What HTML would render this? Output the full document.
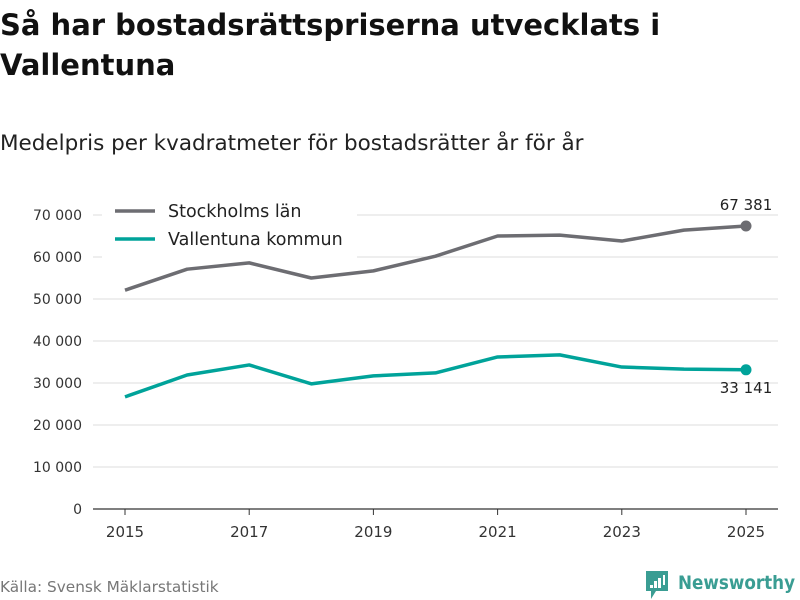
<!DOCTYPE html>
<html><head><meta charset="utf-8"><style>
body{margin:0;width:800px;height:600px;background:#fff;font-family:"DejaVu Sans","Liberation Sans",sans-serif;overflow:hidden;position:relative}
#t{position:absolute;left:0;top:5px;font-size:29px;font-weight:bold;line-height:40px;color:#111}
#s{position:absolute;left:0;top:131px;font-size:21.5px;color:#222}
#src{position:absolute;left:0;top:578px;font-size:15.3px;color:#777}
</style></head><body>
<div id="t">Så har bostadsrättspriserna utvecklats i<br>Vallentuna</div>
<div id="s">Medelpris per kvadratmeter för bostadsrätter år för år</div>
<div id="src">Källa: Svensk Mäklarstatistik</div>
<svg width="800" height="600" style="position:absolute;left:0;top:0" id="svg"></svg>
<script>
const years=[2015,2016,2017,2018,2019,2020,2021,2022,2023,2024,2025];
const sthlm=[52100,57100,58600,55000,56700,60200,65000,65200,63800,66400,67381];
const vall=[26700,31900,34300,29800,31700,32400,36200,36700,33800,33300,33141];
const yTicks=[0,10000,20000,30000,40000,50000,60000,70000];
const xTicks=[2015,2017,2019,2021,2023,2025];
const ns="http://www.w3.org/2000/svg";
const svg=document.getElementById('svg');
const x=v=>125+(v-2015)*62.1;
const y=v=>509-v*0.0042;
const fmt=v=>String(v).replace(/\B(?=(\d{3})+(?!\d))/g,' ');
function mk(tag,a,parent){const e=document.createElementNS(ns,tag);for(const k in a)e.setAttribute(k,a[k]);(parent||svg).appendChild(e);return e;}
yTicks.forEach(t=>{
 const l=mk('line',{x1:93,x2:778,y1:y(t),y2:y(t),stroke:t?'#ddd':'#333','stroke-width':t?1:1.2});
 
 const tx=mk('text',{x:82,y:y(t)+5,'text-anchor':'end','font-size':14,fill:'#333'});tx.textContent=fmt(t);
 
});
xTicks.forEach(t=>{
 const l=mk('line',{x1:x(t),x2:x(t),y1:509,y2:515,stroke:'#333'});
 
 const tx=mk('text',{x:x(t),y:537,'text-anchor':'middle','font-size':15,fill:'#333'});tx.textContent=t;
 
});
function series(data,color,name,anchorY){
 const p=mk('polyline',{points:data.map((v,i)=>x(years[i])+','+y(v)).join(' '),fill:'none',stroke:color,'stroke-width':3.5,'stroke-linejoin':'round'});
 
 const last=data[data.length-1];
 const c=mk('circle',{cx:x(years[years.length-1]),cy:y(last),r:5.5,fill:color});
 
 const t=mk('text',{x:x(years[years.length-1]),y:y(last)+anchorY,'text-anchor':'middle','font-size':15,fill:'#222'});t.textContent=fmt(last);
 
}
series(sthlm,'#6d6d72','stockholm',-16);
series(vall,'#00a39a','vallentuna',23);
const lg=mk('rect',{x:102,y:196,width:255,height:62,fill:'#fff'});

[['Stockholms län','#6d6d72',211],['Vallentuna kommun','#00a39a',239]].forEach(([n,c,yy])=>{
 const l=mk('line',{x1:115,x2:155,y1:yy,y2:yy,stroke:c,'stroke-width':3.5});
 
 const t=mk('text',{x:168,y:yy+6,'font-size':17.5,fill:'#222'});t.textContent=n;
 
});
const g=mk('g',{});
mk('path',{d:'M646 571h22v20h-12l-5 8v-8h-5z',fill:'#3a9d93'},g);
[[650,585,3,3],[654,581,3,7],[658,578,3,10],[663,575,2,10]].forEach(r=>mk('rect',{x:r[0],y:r[1],width:r[2],height:r[3],fill:'#fff'},g));
const lt=mk('text',{x:678,y:589,'font-size':19,'font-weight':'bold',fill:'#3a9d93',textLength:117,lengthAdjust:'spacingAndGlyphs'},g);lt.textContent='Newsworthy';
</script>
</body></html>
